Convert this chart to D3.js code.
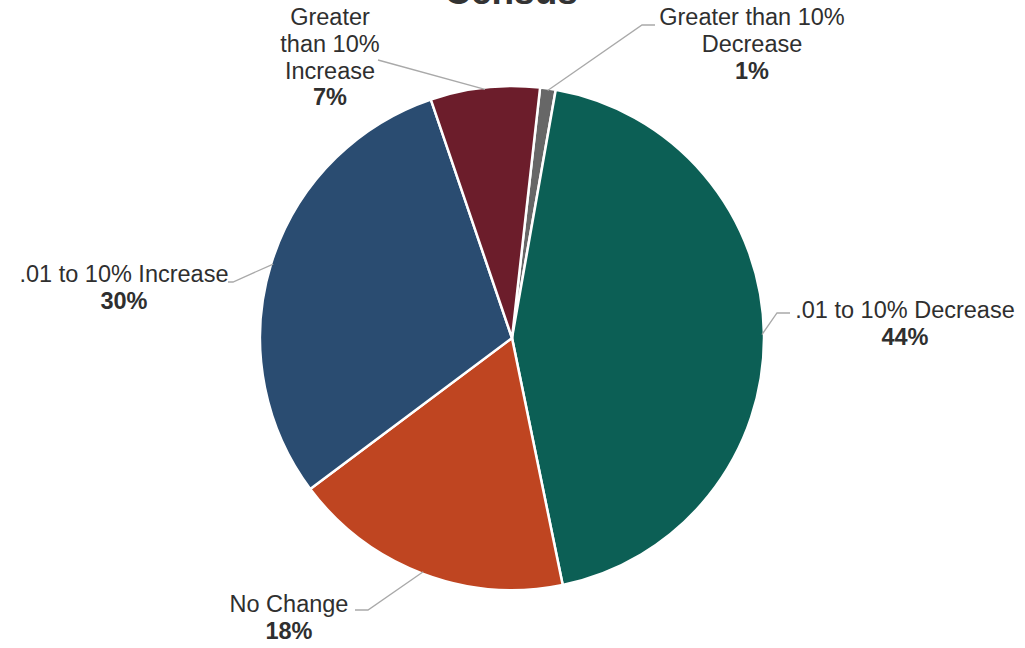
<!DOCTYPE html>
<html>
<head>
<meta charset="utf-8">
<script src="https://cdn.jsdelivr.net/npm/d3@7"></script>
<style>
  html, body { margin: 0; padding: 0; background: #fff; }
  svg { display: block; font-family: "Liberation Sans", Arial, sans-serif; }
</style>
</head>
<body>
<svg id="chart" width="1025" height="648"></svg>
<script>
// Share of counties by change category
const categories = [
  "Greater than 10% Decrease",
  ".01 to 10% Decrease",
  "No Change",
  ".01 to 10% Increase",
  "Greater than 10% Increase"
];
const values = [1, 44, 18, 30, 7];
const colors = ["#676767", "#0c5f55", "#bf4521", "#2a4c71", "#6c1d2b"];
// label text lines for each slice (name lines, then bold percentage)
const labelLines = [
  ["Greater than 10%", "Decrease"],
  [".01 to 10% Decrease"],
  ["No Change"],
  [".01 to 10% Increase"],
  ["Greater", "than 10%", "Increase"]
];

const svg = d3.select("#chart");
const W = 1025, H = 648;
const cx = 512, cy = 338, R = 252;

// title, partly above the top edge
svg.append("text")
  .attr("x", 511).attr("y", 4)
  .attr("text-anchor", "middle")
  .attr("font-size", 37).attr("font-weight", "bold")
  .attr("fill", "#333")
  .text("Census");

const startRad = 6.4 * Math.PI / 180;
const pie = d3.pie().sort(null).value(d => d)
  .startAngle(startRad).endAngle(startRad + 2 * Math.PI);
const arcs = pie(values);
const arc = d3.arc().innerRadius(0).outerRadius(R);

const g = svg.append("g").attr("transform", `translate(${cx},${cy})`);
g.selectAll("path.slice")
  .data(arcs)
  .join("path")
  .attr("class", "slice")
  .attr("d", arc)
  .attr("fill", (d, i) => colors[i])
  .attr("stroke", "#fff")
  .attr("stroke-width", 2.5)
  .attr("stroke-linejoin", "round");

// label placement: elbow point, horizontal end, text anchor point
const layout = [
  { elbow: [642, 25], end: [655, 25], tx: 752, ty: 18, anchor: "middle" },
  { elbow: [777, 313], end: [790, 313], tx: 905, ty: 311, anchor: "middle" },
  { elbow: [368, 610], end: [355, 610], tx: 289, ty: 605, anchor: "middle" },
  { elbow: [233, 282], end: [228, 282], tx: 124, ty: 275, anchor: "middle" },
  { elbow: [378, 60], end: [378, 60], tx: 330, ty: 18, anchor: "middle" }
];

const fontSize = 23.5, lineH = 26.8;
const fmt = v => Math.round(v) + "%";

arcs.forEach((a, i) => {
  const mid = (a.startAngle + a.endAngle) / 2;
  const px = cx + Math.sin(mid) * (R - 2);
  const py = cy - Math.cos(mid) * (R - 2);
  const L = layout[i];
  svg.append("polyline")
    .attr("points", [[px, py], L.elbow, L.end].map(p => p.join(",")).join(" "))
    .attr("fill", "none")
    .attr("stroke", "#a9a9a9")
    .attr("stroke-width", 1.3);

  const t = svg.append("text")
    .attr("text-anchor", L.anchor)
    .attr("font-size", fontSize)
    .attr("fill", "#2f2f2f");
  const lines = labelLines[i];
  lines.forEach((ln, k) => {
    t.append("tspan")
      .attr("x", L.tx)
      .attr("y", L.ty + k * lineH + 7)
      .text(ln);
  });
  t.append("tspan")
    .attr("x", L.tx)
    .attr("y", L.ty + lines.length * lineH + 7)
    .attr("font-weight", "bold")
    .text(fmt(values[i]));
});
</script>
</body>
</html>
